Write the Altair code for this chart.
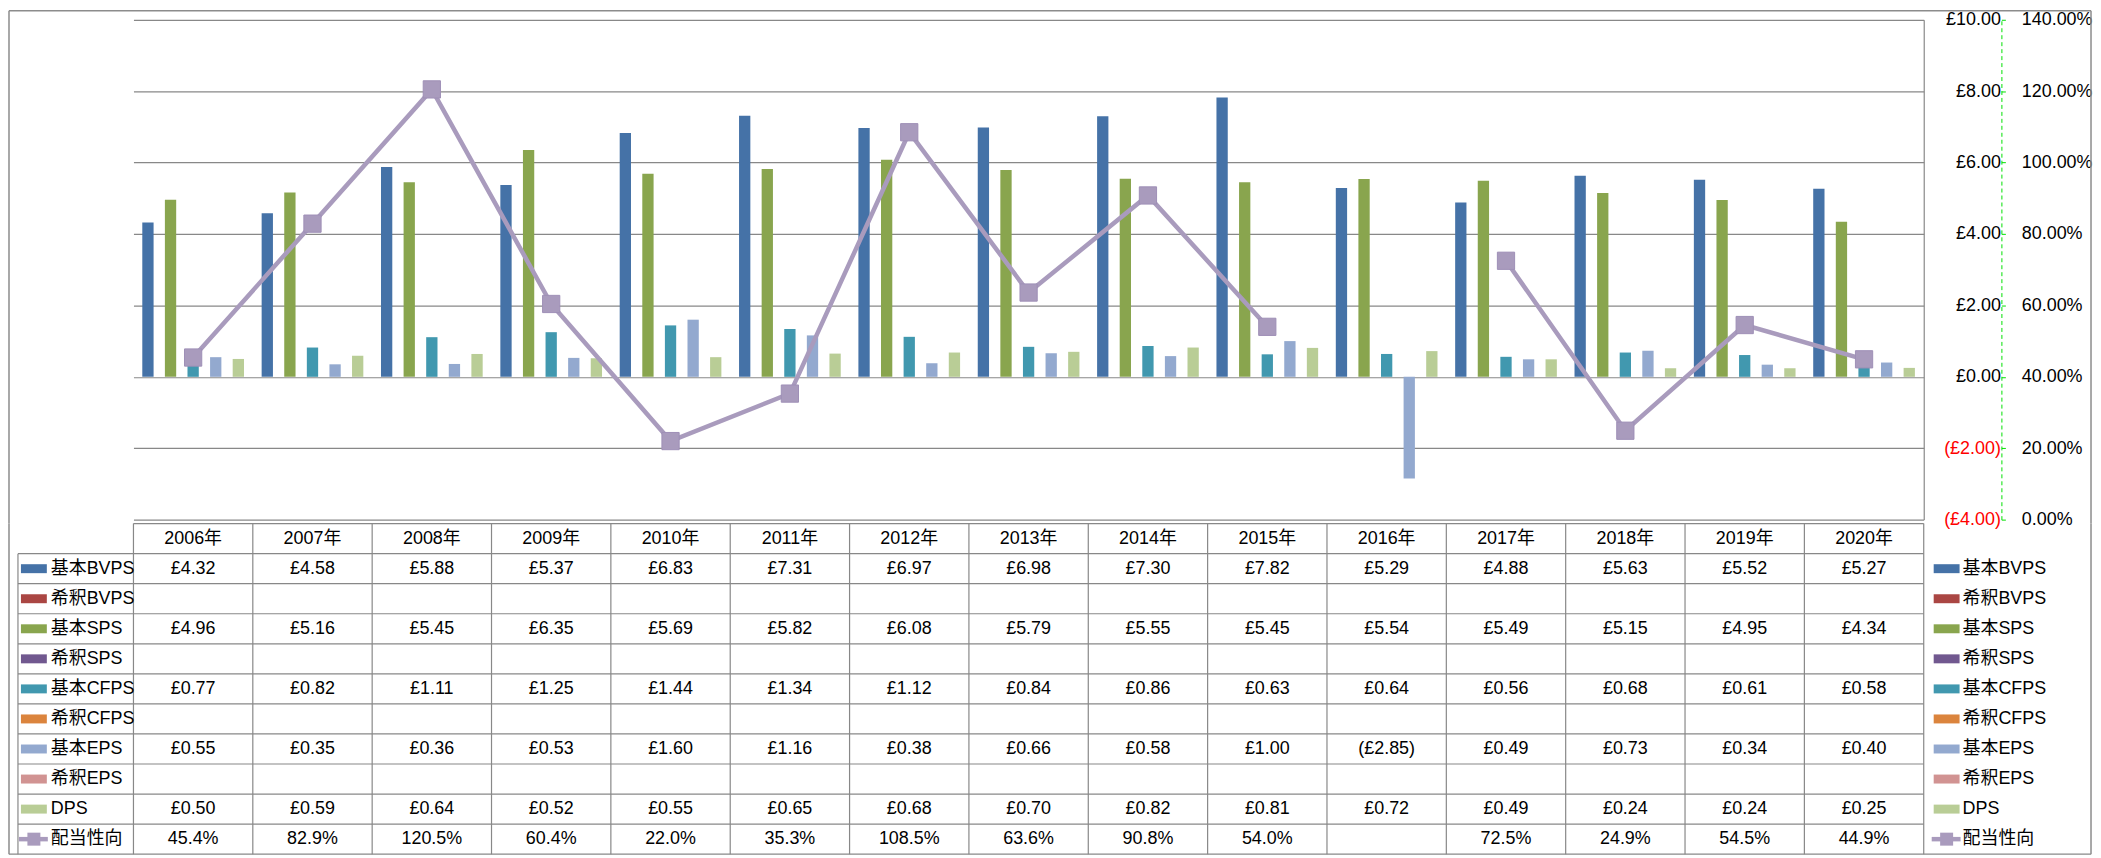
import altair as alt
import pandas as pd

FONT = "Liberation Sans, Noto Sans CJK JP, sans-serif"
GRID = "#888888"
GREEN = "#00E000"
FRAME = "#8C8C8C"

years = ["2006", "2007", "2008", "2009", "2010", "2011", "2012", "2013",
         "2014", "2015", "2016", "2017", "2018", "2019", "2020"]
year_labels = [y + "年" for y in years]

series_names = ["基本BVPS", "希釈BVPS", "基本SPS", "希釈SPS", "基本CFPS",
                "希釈CFPS", "基本EPS", "希釈EPS", "DPS"]
series_colors = ["#4572A7", "#AA4643", "#89A54E", "#71588F", "#4198AF",
                 "#DB843D", "#93A9CF", "#D19392", "#B9CD96"]
line_name = "配当性向"
line_color = "#A99BBD"

basic_bvps = [4.32, 4.58, 5.88, 5.37, 6.83, 7.31, 6.97, 6.98, 7.30, 7.82, 5.29, 4.88, 5.63, 5.52, 5.27]
basic_sps = [4.96, 5.16, 5.45, 6.35, 5.69, 5.82, 6.08, 5.79, 5.55, 5.45, 5.54, 5.49, 5.15, 4.95, 4.34]
basic_cfps = [0.77, 0.82, 1.11, 1.25, 1.44, 1.34, 1.12, 0.84, 0.86, 0.63, 0.64, 0.56, 0.68, 0.61, 0.58]
basic_eps = [0.55, 0.35, 0.36, 0.53, 1.60, 1.16, 0.38, 0.66, 0.58, 1.00, -2.85, 0.49, 0.73, 0.34, 0.40]
dps = [0.50, 0.59, 0.64, 0.52, 0.55, 0.65, 0.68, 0.70, 0.82, 0.81, 0.72, 0.49, 0.24, 0.24, 0.25]
payout_pct = [45.4, 82.9, 120.5, 60.4, 22.0, 35.3, 108.5, 63.6, 90.8, 54.0, None, 72.5, 24.9, 54.5, 44.9]

series_values = {
    "基本BVPS": basic_bvps,
    "基本SPS": basic_sps,
    "基本CFPS": basic_cfps,
    "基本EPS": basic_eps,
    "DPS": dps,
}

# ---------- data frames ----------
bar_rows = []
for s, vals in series_values.items():
    for y, v in zip(years, vals):
        if v is not None:
            bar_rows.append({"year": y, "series": s, "value": v})
bar_df = pd.DataFrame(bar_rows)

line_rows = []
seg = 0
for y, p in zip(years, payout_pct):
    if p is None:
        seg += 1
        continue
    line_rows.append({"year": y, "pct": p, "seg": seg})
line_df = pd.DataFrame(line_rows)


def money(v):
    if v is None:
        return ""
    if v < 0:
        return "(£%.2f)" % (-v)
    return "£%.2f" % v


row_order = ["__hdr__"] + series_names + [line_name]
cell_rows = []
for i, yl in enumerate(year_labels):
    cell_rows.append({"ylab": yl, "row": "__hdr__", "txt": yl})
    for s in series_names:
        vals = series_values.get(s)
        txt = money(vals[i]) if vals is not None else ""
        cell_rows.append({"ylab": yl, "row": s, "txt": txt})
    p = payout_pct[i]
    cell_rows.append({"ylab": yl, "row": line_name, "txt": "" if p is None else "%.1f%%" % p})
cell_df = pd.DataFrame(cell_rows)

legend_df = pd.DataFrame({"row": series_names})
line_leg_df = pd.DataFrame({"row": [line_name]})
all_rows_df = pd.DataFrame({"row": series_names + [line_name]})
one_df = pd.DataFrame({"k": [0]})

W = 1798
H_TOP = 502
H_TAB = 332
SPACING = 4
FR_L = -125      # outer frame, left (relative to plot origin)
FR_R = 1966      # outer frame, right
FR_T = -9        # outer frame, top (relative to top chart)

# ---------- top chart ----------
xs = alt.Scale(domain=years, paddingInner=0.148, paddingOuter=0.074)
color_scale = alt.Scale(domain=series_names, range=series_colors)

bars = alt.Chart(bar_df).mark_bar().encode(
    x=alt.X("year:N", scale=xs, axis=None),
    xOffset=alt.XOffset("series:N", scale=alt.Scale(domain=series_names, paddingInner=0, paddingOuter=0)),
    y=alt.Y("value:Q", scale=alt.Scale(domain=[-4, 10], nice=False),
            axis=alt.Axis(orient="right", values=[-4, -2, 0, 2, 4, 6, 8, 10], grid=True,
                          gridColor=GRID, gridWidth=1.2, domain=True, domainColor=GRID,
                          domainWidth=1.2, ticks=False, tickSize=0, labelAlign="right",
                          labelBaseline="middle", labelPadding=77, labelFontSize=18,
                          labelFont=FONT,
                          labelExpr="datum.value < 0 ? '(£' + format(-datum.value, '.2f') + ')' : '£' + format(datum.value, '.2f')",
                          labelColor=alt.condition("datum.value < 0", alt.value("#FF0000"), alt.value("#000000")),
                          title=None)),
    color=alt.Color("series:N", scale=color_scale, legend=None),
)

pct_scale = alt.Scale(domain=[0, 140], nice=False)
line = alt.Chart(line_df).mark_line(color=line_color, strokeWidth=4.5).encode(
    x=alt.X("year:N"),
    y=alt.Y("pct:Q", scale=pct_scale,
            axis=alt.Axis(orient="right", offset=78, values=[0, 20, 40, 60, 80, 100, 120, 140],
                          grid=False, domain=True, domainColor=GREEN, domainDash=[4, 3],
                          domainWidth=1, ticks=True, tickColor=GREEN, tickSize=4, tickWidth=1,
                          labelAlign="left", labelBaseline="middle", labelPadding=16,
                          labelFontSize=18, labelFont=FONT, labelColor="#000000",
                          labelExpr="format(datum.value, '.2f') + '%'", title=None)),
    detail="seg:N",
)
pts = alt.Chart(line_df).mark_point(shape="square", filled=True, size=300, color=line_color,
                                    opacity=1, stroke="#9E8FB6", strokeWidth=1).encode(
    x=alt.X("year:N"),
    y=alt.Y("pct:Q", scale=pct_scale),
)

# outer frame pieces belonging to the top panel
fr_top = alt.Chart(one_df).mark_rule(color=FRAME, strokeWidth=1.5).encode(
    x=alt.value(FR_L), x2=alt.value(FR_R), y=alt.value(FR_T))
fr_left_top = alt.Chart(one_df).mark_rule(color=FRAME, strokeWidth=1.5).encode(
    x=alt.value(FR_L), y=alt.value(FR_T), y2=alt.value(H_TOP + SPACING))
fr_right_top = alt.Chart(one_df).mark_rule(color=FRAME, strokeWidth=1.5).encode(
    x=alt.value(FR_R), y=alt.value(FR_T), y2=alt.value(H_TOP + SPACING))

top = alt.layer(fr_top, fr_left_top, fr_right_top, bars, alt.layer(line, pts)).resolve_scale(
    y="independent").properties(width=W, height=H_TOP)

# ---------- table chart ----------
ys = alt.Scale(domain=row_order, paddingInner=0, paddingOuter=0)
xt = alt.Scale(domain=year_labels, paddingInner=0, paddingOuter=0)

hdr_top = alt.Chart(pd.DataFrame({"row": ["__hdr__"]})).mark_rule(color=GRID, strokeWidth=1.2).encode(
    y=alt.Y("row:N", bandPosition=0, scale=ys, axis=None),
    x=alt.value(0), x2=alt.value(W))
row_tops = alt.Chart(all_rows_df).mark_rule(color=GRID, strokeWidth=1.2).encode(
    y=alt.Y("row:N", bandPosition=0, scale=ys, axis=None),
    x=alt.value(-116), x2=alt.value(W))
bottom = alt.Chart(line_leg_df).mark_rule(color=GRID, strokeWidth=1.2).encode(
    y=alt.Y("row:N", bandPosition=1, scale=ys, axis=None),
    x=alt.value(FR_L), x2=alt.value(FR_R))
vlines = alt.Chart(pd.DataFrame({"ylab": year_labels})).mark_rule(color=GRID, strokeWidth=1.2).encode(
    x=alt.X("ylab:N", bandPosition=0, scale=xt, axis=None),
    y=alt.value(0), y2=alt.value(H_TAB))
vright = alt.Chart(pd.DataFrame({"ylab": [year_labels[-1]]})).mark_rule(color=GRID, strokeWidth=1.2).encode(
    x=alt.X("ylab:N", bandPosition=1, scale=xt, axis=None),
    y=alt.value(0), y2=alt.value(H_TAB))
vleft = alt.Chart(pd.DataFrame({"row": [series_names[0]]})).mark_rule(color=GRID, strokeWidth=1.2).encode(
    y=alt.Y("row:N", bandPosition=0, scale=ys, axis=None),
    y2=alt.value(H_TAB), x=alt.value(-116))
fr_left_tab = alt.Chart(one_df).mark_rule(color=FRAME, strokeWidth=1.5).encode(
    x=alt.value(FR_L), y=alt.value(0), y2=alt.value(H_TAB))
fr_right_tab = alt.Chart(one_df).mark_rule(color=FRAME, strokeWidth=1.5).encode(
    x=alt.value(FR_R), y=alt.value(0), y2=alt.value(H_TAB))

cells = alt.Chart(cell_df).mark_text(fontSize=18, font=FONT, color="#000000", baseline="middle").encode(
    x=alt.X("ylab:N", scale=xt, axis=None),
    y=alt.Y("row:N", scale=ys, axis=None),
    text="txt:N")


def legend_block(x_sw0, x_sw1, x_txt):
    sw = alt.Chart(legend_df).mark_rule(strokeWidth=9, strokeCap="butt").encode(
        y=alt.Y("row:N", scale=ys, axis=None),
        x=alt.value(x_sw0), x2=alt.value(x_sw1),
        color=alt.Color("row:N", scale=color_scale, legend=None))
    lsym = alt.Chart(line_leg_df).mark_rule(strokeWidth=4.5, color=line_color).encode(
        y=alt.Y("row:N", scale=ys, axis=None),
        x=alt.value(x_sw0 - 2), x2=alt.value(x_sw1 + 1))
    lpt = alt.Chart(line_leg_df).mark_point(shape="square", filled=True, size=170,
                                            color=line_color, opacity=1).encode(
        y=alt.Y("row:N", scale=ys, axis=None),
        x=alt.value((x_sw0 + x_sw1) / 2))
    txt = alt.Chart(all_rows_df).mark_text(fontSize=18, font=FONT, color="#000000",
                                           align="left", baseline="middle").encode(
        y=alt.Y("row:N", scale=ys, axis=None),
        x=alt.value(x_txt), text="row:N")
    return [sw, lsym, lpt, txt]


left_leg = legend_block(-113, -87, -83)
right_leg = legend_block(1808, 1834, 1837)

table = alt.layer(fr_left_tab, fr_right_tab, hdr_top, row_tops, bottom, vlines, vright, vleft,
                  cells, *left_leg, *right_leg).properties(width=W, height=H_TAB)

chart = alt.vconcat(top, table, spacing=SPACING, bounds="flush").resolve_scale(
    x="independent", y="independent", color="independent"
).properties(
    padding={"left": 0, "top": 0, "right": 0, "bottom": 0}
).configure(font=FONT).configure_view(stroke=None)

chart.save("out.html", embed_options={"renderer": "svg", "actions": False})
